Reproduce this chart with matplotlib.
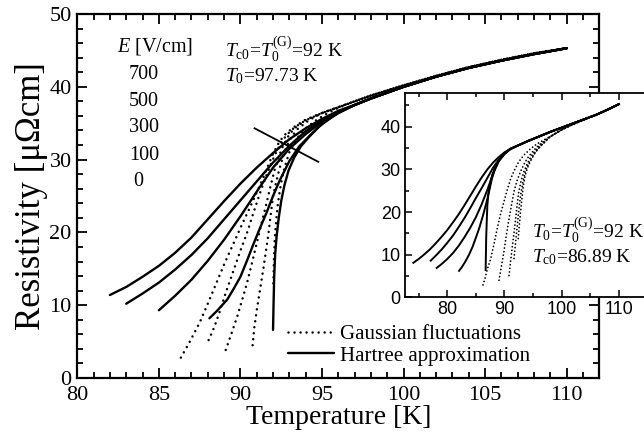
import matplotlib
matplotlib.use("Agg")
import matplotlib.pyplot as plt
from matplotlib.lines import Line2D
from matplotlib.ticker import MultipleLocator

plt.rcParams['font.family'] = ['Liberation Serif', 'DejaVu Serif']
plt.rcParams['mathtext.fontset'] = 'custom'
plt.rcParams['mathtext.rm'] = 'Liberation Serif'
plt.rcParams['mathtext.it'] = 'Liberation Serif:italic'

# ---------------- main panel data ----------------
# common high-temperature part (all curves merge)
tail_T = [97.0, 98.0, 99.0, 100.0, 102.0, 104.0, 106.0, 108.0, 110.0]
tail_R_hartree = [37.5, 38.4, 39.2, 40.0, 41.4, 42.6, 43.6, 44.5, 45.3]
tail_R_gauss = [38.0, 38.8, 39.5, 40.2, 41.5, 42.7, 43.7, 44.6, 45.3]

# Hartree approximation (solid), E = 700, 500, 300, 100, 0 V/cm
h700_T = [82.0, 83.0, 84.0, 85.0, 86.0, 87.0, 88.0, 89.0, 90.0, 91.0, 92.0, 93.0, 94.0, 95.0, 96.0]
h700_R = [11.4, 12.5, 13.9, 15.4, 17.2, 19.3, 21.8, 24.3, 26.7, 28.9, 30.9, 32.8, 34.3, 35.6, 36.7]
h500_T = [83.0, 84.0, 85.0, 86.0, 87.0, 88.0, 89.0, 90.0, 91.0, 92.0, 93.0, 94.0, 95.0, 96.0]
h500_R = [10.2, 11.6, 13.1, 14.9, 16.9, 19.2, 21.8, 24.4, 27.0, 29.6, 31.9, 33.9, 35.4, 36.6]
h300_T = [85.0, 86.0, 87.0, 88.0, 89.0, 90.0, 91.0, 92.0, 93.0, 94.0, 95.0, 96.0]
h300_R = [9.3, 11.3, 13.5, 16.1, 19.0, 22.2, 25.6, 28.9, 31.5, 33.5, 35.2, 36.5]
h100_T = [88.1, 88.6, 89.2, 89.6, 90.0, 90.4, 90.8, 91.2, 91.6, 92.0, 92.4, 93.0, 93.6, 94.3, 95.0, 96.0]
h100_R = [8.2, 9.3, 10.8, 12.3, 13.9, 16.1, 18.4, 20.6, 22.7, 25.0, 27.1, 29.8, 31.8, 33.4, 34.9, 36.4]
h0_T = [92.0, 92.03, 92.07, 92.13, 92.22, 92.35, 92.5, 92.7, 92.95, 93.3, 93.7, 94.2, 94.8, 95.5, 96.0]
h0_R = [6.6, 10.0, 13.9, 17.0, 19.5, 22.0, 24.3, 26.5, 28.5, 30.3, 31.8, 33.1, 34.5, 35.7, 36.4]

# Gaussian fluctuations (dotted)
g700_T = [86.35, 86.9, 87.5, 88.0, 88.5, 89.0, 89.6, 90.1, 90.6, 91.0, 91.4, 91.7, 92.0, 92.4,
          92.8, 93.3, 94.0, 95.0, 96.0]
g700_R = [2.8, 5.0, 7.6, 10.2, 12.9, 15.6, 18.6, 21.1, 23.5, 25.5, 27.5, 29.2, 30.8, 32.5,
          33.6, 34.5, 35.5, 36.4, 37.2]
g500_T = [88.05, 88.4, 88.7, 89.1, 89.6, 90.0, 90.4, 90.8, 91.2, 91.5, 91.8, 92.1, 92.4, 92.8,
          93.3, 94.0, 95.0, 96.0]
g500_R = [5.2, 7.0, 8.9, 11.7, 14.9, 17.5, 19.9, 22.7, 25.4, 27.3, 29.0, 30.6, 31.9, 33.3,
          34.4, 35.4, 36.4, 37.2]
g300_T = [89.1, 89.45, 89.8, 90.1, 90.4, 90.7, 91.0, 91.3, 91.6, 91.85, 92.1, 92.35, 92.6, 92.9,
          93.3, 94.0, 95.0, 96.0]
g300_R = [3.85, 6.1, 8.4, 10.7, 13.0, 15.7, 18.5, 21.3, 24.0, 26.4, 28.6, 30.4, 31.8, 33.1,
          34.3, 35.4, 36.4, 37.2]
g100_T = [90.75, 90.85, 91.0, 91.2, 91.4, 91.55, 91.7, 91.85, 92.0, 92.2, 92.4, 92.6, 92.8, 93.1,
          93.5, 94.2, 95.0, 96.0]
g100_R = [4.5, 6.9, 9.3, 12.1, 14.9, 17.2, 19.5, 22.3, 25.0, 27.0, 28.8, 30.3, 31.6, 33.0,
          34.2, 35.4, 36.4, 37.2]
g0_T = [92.02, 92.05, 92.1, 92.2, 92.3, 92.45, 92.6, 92.8, 93.0, 93.3, 93.6, 94.0, 94.5, 95.2, 96.0]
g0_R = [13.0, 16.0, 19.0, 21.8, 24.0, 26.2, 28.0, 29.6, 31.0, 32.3, 33.3, 34.3, 35.2, 36.2, 37.1]

cross_T = [90.87, 94.77]
cross_R = [34.3, 29.7]

field_labels = ['700', '500', '300', '100', '0']

# ---------------- inset data ----------------
itail_T_h = [92.0, 93.0, 94.0, 96.0, 98.0, 100.0, 102.0, 104.0, 106.0, 108.0, 110.0]
itail_R_h = [35.4, 36.0, 36.6, 37.7, 38.8, 39.8, 40.8, 41.8, 42.8, 44.0, 45.3]
itail_T_g = [98.0, 99.0, 100.0, 102.0, 104.0, 106.0, 108.0, 110.0]
itail_R_g = [37.7, 38.5, 39.3, 40.6, 41.7, 42.8, 44.0, 45.3]

ih1_T = [74.06, 75.0, 76.0, 77.0, 78.0, 79.0, 80.0, 81.0, 82.0, 83.0, 84.0, 85.0, 86.0, 87.0,
         88.0, 89.0, 90.0, 91.0]
ih1_R = [8.1, 9.0, 10.1, 11.3, 12.7, 14.2, 15.8, 17.6, 19.5, 21.6, 23.8, 26.0, 28.1, 30.0,
         31.6, 32.9, 34.0, 34.8]
ih2_T = [77.1, 78.0, 79.0, 80.0, 81.0, 82.0, 83.0, 84.0, 85.0, 86.0, 87.0, 88.0, 89.0, 90.0, 91.0]
ih2_R = [8.6, 9.8, 11.2, 12.8, 14.5, 16.5, 18.6, 20.9, 23.3, 25.6, 28.0, 30.4, 32.3, 33.8, 34.8]
ih3_T = [78.15, 79.0, 80.0, 81.0, 82.0, 83.0, 84.0, 85.0, 86.0, 87.0, 88.0, 89.0, 90.0, 91.0]
ih3_R = [6.9, 7.8, 9.0, 10.4, 12.1, 14.1, 16.3, 18.8, 21.8, 25.2, 29.0, 31.9, 33.7, 34.8]
ih4_T = [82.05, 82.6, 83.2, 83.8, 84.4, 85.0, 85.6, 86.2, 86.8, 87.3, 87.8, 88.3, 89.0, 90.0, 91.0]
ih4_R = [6.2, 7.2, 8.5, 10.0, 11.8, 14.0, 16.3, 19.0, 22.0, 24.8, 27.8, 30.0, 32.1, 33.7, 34.8]
ih5_T = [86.7, 86.75, 86.8, 86.9, 87.0, 87.2, 87.5, 87.9, 88.4, 89.0, 90.0, 91.0]
ih5_R = [6.4, 10.0, 14.0, 18.0, 21.6, 24.5, 26.8, 28.9, 30.6, 32.0, 33.6, 34.7]

ig1_T = [86.24, 86.6, 87.0, 87.6, 88.2, 88.74, 89.3, 89.9, 90.5, 91.1, 91.8, 92.5, 93.5, 94.6, 95.7, 97.0]
ig1_R = [2.9, 4.5, 6.6, 9.1, 12.7, 16.2, 19.5, 22.4, 25.3, 27.9, 30.0, 31.8, 33.5, 34.9, 36.0, 37.0]
ig2_T = [89.04, 89.4, 89.9, 90.3, 90.8, 91.2, 91.66, 92.2, 92.8, 93.4, 94.0, 94.8, 95.7, 97.0]
ig2_R = [4.0, 6.8, 10.7, 14.4, 18.5, 21.5, 24.8, 27.4, 29.5, 31.2, 32.6, 34.0, 35.3, 36.8]
ig3_T = [90.79, 91.1, 91.4, 91.7, 91.96, 92.2, 92.5, 92.9, 93.4, 94.0, 94.6, 95.3, 96.0, 97.0]
ig3_R = [5.1, 8.8, 12.3, 15.5, 18.5, 21.6, 24.8, 27.3, 29.5, 31.4, 33.0, 34.3, 35.4, 36.6]
ig4_T = [91.66, 91.95, 92.24, 92.5, 92.8, 93.2, 93.7, 94.3, 94.9, 95.5, 96.2, 97.0]
ig4_R = [9.1, 13.0, 16.9, 20.4, 23.8, 26.9, 29.8, 31.6, 33.0, 34.2, 35.3, 36.4]
ig5_T = [92.4, 92.6, 92.8, 93.05, 93.3, 93.6, 94.0, 94.6, 95.2, 95.8, 96.4, 97.0]
ig5_R = [13.8, 17.0, 19.9, 23.2, 26.3, 28.5, 30.3, 32.1, 33.6, 34.7, 35.6, 36.3]

# ---------------- figure ----------------
fig = plt.figure(figsize=(6.44, 4.45), dpi=100)
ax = fig.add_axes([0.120, 0.1506, 0.8106, 0.8179])

solid_kw = dict(color='black', lw=1.7, ls='-', solid_capstyle='round', solid_joinstyle='round')
dot_kw = dict(color='black', lw=1.8, ls=(0, (0.01, 2.4)), dash_capstyle='round')

for T, R in [(h700_T, h700_R), (h500_T, h500_R), (h300_T, h300_R),
             (h100_T, h100_R), (h0_T, h0_R)]:
    ax.plot(T + tail_T, R + tail_R_hartree, **solid_kw)
for T, R in [(g700_T, g700_R), (g500_T, g500_R), (g300_T, g300_R),
             (g100_T, g100_R), (g0_T, g0_R)]:
    ax.plot(T + tail_T, R + tail_R_gauss, **dot_kw)
ax.plot(cross_T, cross_R, color='black', lw=1.3)

ax.set_xlim(80, 112)
ax.set_ylim(0, 50)
ax.xaxis.set_major_locator(MultipleLocator(5))
ax.xaxis.set_minor_locator(MultipleLocator(1))
ax.yaxis.set_major_locator(MultipleLocator(10))
ax.yaxis.set_minor_locator(MultipleLocator(2))
ax.tick_params(which='both', direction='in', top=True, right=True, width=1.3)
ax.tick_params(which='major', length=7, labelsize=16)
ax.tick_params(axis='x', which='major', pad=6)
ax.tick_params(axis='y', which='major', pad=4)
ax.tick_params(which='minor', length=4)
for s in ax.spines.values():
    s.set_linewidth(1.6)
ax.set_xlabel('Temperature [K]', fontsize=20, labelpad=0)
ax.set_ylabel('Resistivity [μΩcm]', fontsize=25, labelpad=1)

ax.text(0.0755, 0.910, r'$E$ [V/cm]', transform=ax.transAxes, fontsize=14.5,
        ha='left', va='center')
ys = [0.834, 0.761, 0.688, 0.6126, 0.539]
xs = [0.1274, 0.1274, 0.1274, 0.1274, 0.1176]
for lab, xx, yy in zip(field_labels, xs, ys):
    ax.text(xx, yy, lab, transform=ax.transAxes, fontsize=14.5, ha='center', va='center')
ax.text(0.283, 0.905, r'$T_{\rm c0}$=$T_0^{\rm (G)}$=92 K', transform=ax.transAxes,
        fontsize=14, ha='left', va='center')
ax.text(0.283, 0.829, r'$T_0$=97.73 K', transform=ax.transAxes,
        fontsize=14, ha='left', va='center')

handles = [Line2D([], [], **dot_kw), Line2D([], [], **solid_kw)]
ax.legend(handles, ['Gaussian fluctuations', 'Hartree approximation'],
          loc='upper left', bbox_to_anchor=(0.404, 0.146), frameon=False,
          fontsize=15, handlelength=2.2, handletextpad=0.3, labelspacing=0.08,
          borderpad=0, borderaxespad=0)

# ---------------- inset ----------------
ins = fig.add_axes([0.6289, 0.3319, 0.3711, 0.4598])
ins.set_facecolor('white')
for T, R in [(ih1_T, ih1_R), (ih2_T, ih2_R), (ih3_T, ih3_R), (ih4_T, ih4_R), (ih5_T, ih5_R)]:
    ins.plot(T + itail_T_h, R + itail_R_h, color='black', lw=1.4, solid_joinstyle='round')
for T, R in [(ig1_T, ig1_R), (ig2_T, ig2_R), (ig3_T, ig3_R), (ig4_T, ig4_R), (ig5_T, ig5_R)]:
    ins.plot(T + itail_T_g, R + itail_R_g, color='black', lw=1.3, ls=(0, (0.01, 2.0)),
             dash_capstyle='round')
ins.set_xlim(72.6, 114.4)
ins.set_ylim(0, 48)
ins.xaxis.set_major_locator(MultipleLocator(10))
ins.xaxis.set_minor_locator(MultipleLocator(5))
ins.yaxis.set_major_locator(MultipleLocator(10))
ins.yaxis.set_minor_locator(MultipleLocator(5))
ins.tick_params(which='both', direction='in', top=True, right=False, width=1.1)
ins.tick_params(which='major', length=5, labelsize=13, pad=3)
ins.tick_params(which='minor', length=3)
for lab in ins.get_xticklabels() + ins.get_yticklabels():
    lab.set_family(['Liberation Sans', 'DejaVu Sans'])
for s in ins.spines.values():
    s.set_linewidth(1.3)
ins.spines['right'].set_visible(False)
ins.text(0.530, 0.329, r'$T_0$=$T_0^{\rm (G)}$=92 K', transform=ins.transAxes,
         fontsize=14, ha='left', va='center')
ins.text(0.530, 0.198, r'$T_{\rm c0}$=86.89 K', transform=ins.transAxes,
         fontsize=14, ha='left', va='center')

fig.savefig('out.png', dpi=100)
